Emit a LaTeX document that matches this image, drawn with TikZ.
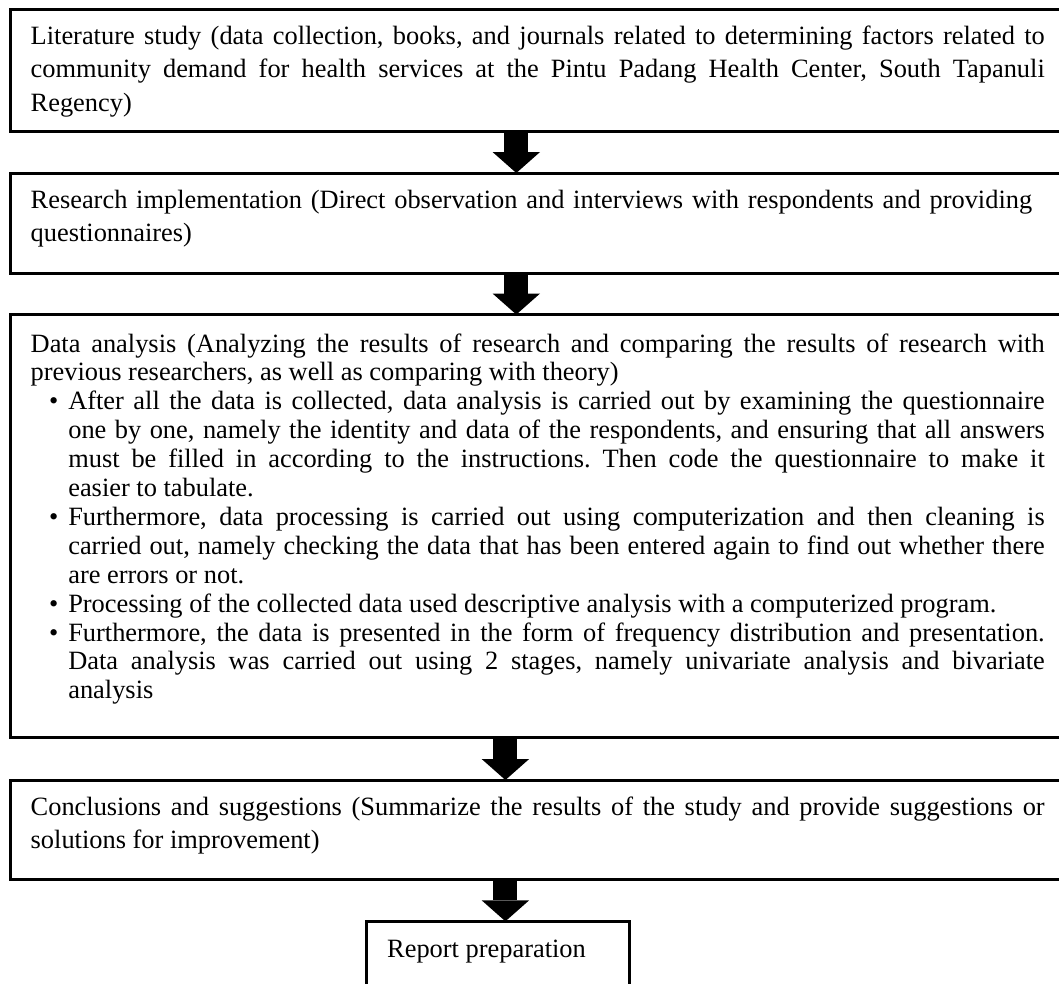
\documentclass[tikz,border=0pt]{standalone}
\usepackage{fontspec}
\setmainfont{Liberation Serif}
\usetikzlibrary{arrows.meta}
\frenchspacing
\begin{document}
\begin{tikzpicture}[x=1pt,y=-1pt,
  box/.style={draw, line width=3pt, anchor=north west, inner sep=0pt, outer sep=0pt,
              minimum width=1080pt, minimum height=#1},
  repbox/.style={draw, line width=2.5pt, anchor=north west, inner sep=0pt, outer sep=0pt,
              minimum width=263.2pt, minimum height=100pt},
  txt/.style={anchor=base west, inner sep=0pt, outer sep=0pt, text width=1014pt, align=justify,
              font=\fontsize{26.4}{33.4}\selectfont\frenchspacing},
  txtleft/.style={anchor=base west, inner sep=0pt, outer sep=0pt, text width=1014pt, align=left,
              font=\fontsize{26.4}{33.4}\selectfont\frenchspacing},
  txtlist/.style={anchor=base west, inner sep=0pt, outer sep=0pt, text width=1014pt, align=justify,
              font=\fontsize{26.4}{28.9}\selectfont\frenchspacing},
  flow/.style={line width=24pt, -{Triangle[width=47.5pt,length=21pt,line width=0pt]}},
]
\useasboundingbox (0,0) rectangle (1059,983);
\clip (0,0) rectangle (1059,983);

\newcommand\bulletitem[1]{{\leftskip=37.6pt\hyphenpenalty=10000\noindent\llap{\makebox[19.3pt][l]{•}}#1\par}}

% boxes
\node[box=121.2pt] (b1) at (10.5,9.8) {};
\node[box=100pt]   (b2) at (10.5,173) {};
\node[box=422.5pt] (b3) at (10.5,314.5) {};
\node[box=99.7pt]  (b4) at (10.5,780) {};
\node[repbox]      (rp) at (366.3,921.3) {};

% texts
\node[txt] (t1) at (30.7,44.3) {\hyphenpenalty=10000
Literature study (data collection, books, and journals related to determining factors related to\linebreak
community demand for health services at the Pintu Padang Health Center, South Tapanuli\linebreak
Regency)};

\node[txtleft] (t2) at (30.7,208.3) {Research implementation (Direct observation and interviews with respondents and providing\\
questionnaires)};

\node[txtlist] (t3) at (30.7,352) {\hyphenpenalty=10000
Data analysis (Analyzing the results of research and comparing the results of research with\linebreak
previous researchers, as well as comparing with theory)\par
\bulletitem{After all the data is collected, data analysis is carried out by examining the questionnaire\linebreak
one by one, namely the identity and data of the respondents, and ensuring that all answers\linebreak
must be filled in according to the instructions. Then code the questionnaire to make it\linebreak
easier to tabulate.}
\bulletitem{Furthermore, data processing is carried out using computerization and then cleaning is\linebreak
carried out, namely checking the data that has been entered again to find out whether there\linebreak
are errors or not.}
\bulletitem{Processing of the collected data used descriptive analysis with a computerized program.}
\bulletitem{Furthermore, the data is presented in the form of frequency distribution and presentation.\linebreak
Data analysis was carried out using 2 stages, namely univariate analysis and bivariate\linebreak
analysis}};

\node[txt] (t4) at (30.7,815) {\hyphenpenalty=10000
Conclusions and suggestions (Summarize the results of the study and provide suggestions or\linebreak
solutions for improvement)};

\node[anchor=base west, inner sep=0pt, font=\fontsize{26.4}{33.4}\selectfont] (t5) at (387,957) {Report preparation};

% arrows
\coordinate (ax1) at (516.3,0);
\coordinate (ax2) at (516.3,0);
\coordinate (ax3) at (505.4,0);
\coordinate (ax4) at (505.4,0);
\draw[flow] (b1.south -| ax1) -- (b2.north -| ax1);
\draw[flow] (b2.south -| ax2) -- (b3.north -| ax2);
\draw[flow] (b3.south -| ax3) -- (b4.north -| ax3);
\draw[flow] (b4.south -| ax4) -- (rp.north -| ax4);
\end{tikzpicture}
\end{document}
